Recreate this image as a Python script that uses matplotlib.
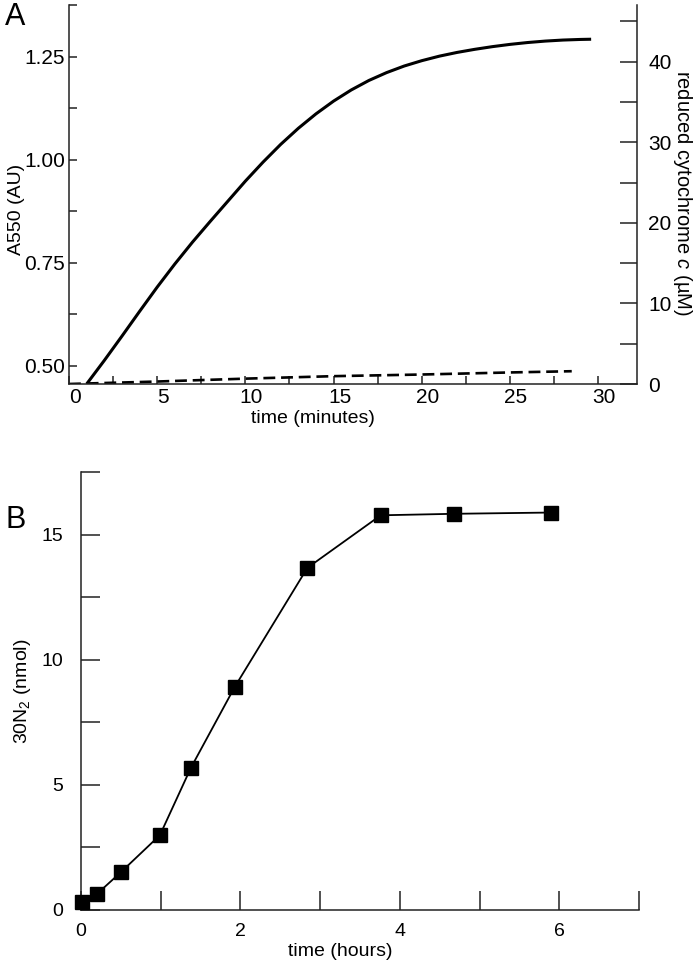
import matplotlib
matplotlib.use("Agg")
import matplotlib.pyplot as plt
import matplotlib.transforms as mtransforms

plt.rcParams['font.family'] = ['Liberation Sans', 'DejaVu Sans']
plt.rcParams['mathtext.fontset'] = 'custom'
plt.rcParams['mathtext.rm'] = 'Liberation Sans'
plt.rcParams['mathtext.it'] = 'Liberation Sans:italic'

# ---- Panel A data ----
a_solid_t = [1.0, 2, 3, 4, 5, 6, 7, 8, 9, 10, 11, 12, 13, 14, 15, 16, 17, 18, 19, 20,
             21, 22, 23, 24, 25, 26, 27, 28, 29, 29.6]
a_solid_v = [0.456, 0.513, 0.572, 0.632, 0.691, 0.747, 0.800, 0.850, 0.899, 0.948, 0.994,
             1.037, 1.076, 1.111, 1.142, 1.169, 1.192, 1.211, 1.227, 1.240, 1.251, 1.260,
             1.2675, 1.274, 1.2795, 1.284, 1.2875, 1.290, 1.2915, 1.292]
a_dash_t = [0, 5, 10, 15, 20, 25, 28.5]
a_dash_v = [0.456, 0.462, 0.469, 0.475, 0.479, 0.484, 0.487]

a_xticks = [0, 2.5, 5, 7.5, 10, 12.5, 15, 17.5, 20, 22.5, 25, 27.5, 30]
a_xticklabels = ['0', '', '5', '', '10', '', '15', '', '20', '', '25', '', '30']
a_yticks = [0.5, 0.625, 0.75, 0.875, 1.0, 1.125, 1.25, 1.375]
a_yticklabels = ['0.50', '', '0.75', '', '1.00', '', '1.25', '']
a_rticks = [0, 5, 10, 15, 20, 25, 30, 35, 40, 45]
a_rticklabels = ['0', '', '10', '', '20', '', '30', '', '40', '']

# ---- Panel B data ----
b_t = [0.01, 0.2, 0.5, 0.99, 1.38, 1.93, 2.84, 3.76, 4.68, 5.89]
b_v = [0.31, 0.64, 1.51, 2.99, 5.69, 8.92, 13.67, 15.77, 15.83, 15.88]
b_xticks = [0, 1, 2, 3, 4, 5, 6, 7]
b_xticklabels = ['0', '', '2', '', '4', '', '6', '']
b_yticks = [0, 2.5, 5, 7.5, 10, 12.5, 15, 17.5]
b_yticklabels = ['0', '', '5', '', '10', '', '15', '']

W, H = 693, 960
fig = plt.figure(figsize=(W / 100, H / 100), dpi=100)

def rect(l, r, t, b):
    return [l / W, 1 - b / H, (r - l) / W, (b - t) / H]

spine_c = '#222222'
fsT = 15   # tick labels panel A
fsL = 14   # axis labels

# ---------- Panel A ----------
axA = fig.add_axes(rect(69, 637, 5, 384))
axA.plot(a_solid_t, a_solid_v, color='black', lw=2.2, solid_capstyle='butt',
         solid_joinstyle='round')
axA.plot(a_dash_t, a_dash_v, color='black', lw=1.9, dashes=(4.5, 2.2))
axA.set_xlim(0, 32.2)
axA.set_ylim(0.456, 1.375)
axA.set_xticks(a_xticks)
axA.set_xticklabels(a_xticklabels)
axA.set_yticks(a_yticks)
axA.set_yticklabels(a_yticklabels)
for s in ['top', 'right']:
    axA.spines[s].set_visible(False)
for s in ['left', 'bottom']:
    axA.spines[s].set_color(spine_c)
    axA.spines[s].set_linewidth(1.1)
axA.tick_params(axis='both', direction='in', length=6, width=1.1, color=spine_c,
                labelsize=fsT, pad=3)
axA.tick_params(axis='x', pad=3)
offset = mtransforms.ScaledTranslation(6 / 100, 0, fig.dpi_scale_trans)
for lab in axA.get_xticklabels():
    lab.set_transform(lab.get_transform() + offset)
axA.set_xlabel('time (minutes)', fontsize=fsL)
axA.xaxis.set_label_coords(0.43, -0.068)
axA.set_ylabel('A550 (AU)', fontsize=fsL)
axA.yaxis.set_label_coords(-0.078, 0.46)

axR = axA.twinx()
axR.set_ylim(0, (384 - 5) / 8.06)
axR.set_yticks(a_rticks)
axR.set_yticklabels(a_rticklabels)
for s in ['top', 'left', 'bottom']:
    axR.spines[s].set_visible(False)
axR.spines['right'].set_color(spine_c)
axR.spines['right'].set_linewidth(1.1)
axR.tick_params(axis='y', direction='in', length=12, width=1.1, color=spine_c,
                labelsize=fsT, pad=8)
fig.text(682.5 / W, 1 - 193 / H, 'reduced cytochrome $\\mathit{c}$ (\u00b5M)',
         fontsize=14.5, rotation=270, ha='center', va='center',
         rotation_mode='anchor')

fig.text(5 / W, 1 - 2 / H, 'A', fontsize=22, ha='left', va='top')

# ---------- Panel B ----------
axB = fig.add_axes(rect(81, 639, 472, 910))
axB.plot(b_t, b_v, color='black', lw=1.3, marker='s', markersize=9.5,
         markerfacecolor='black', markeredgecolor='black', clip_on=False, zorder=3)
axB.set_xlim(0, 7)
axB.set_ylim(0, 17.5)
axB.set_xticks(b_xticks)
axB.set_xticklabels(b_xticklabels)
axB.set_yticks(b_yticks)
axB.set_yticklabels(b_yticklabels)
for s in ['top', 'right']:
    axB.spines[s].set_visible(False)
for s in ['left', 'bottom']:
    axB.spines[s].set_color(spine_c)
    axB.spines[s].set_linewidth(1.1)
axB.tick_params(axis='both', direction='in', length=13.5, width=1.1, color=spine_c,
                labelsize=fsL)
axB.tick_params(axis='y', pad=13)
axB.tick_params(axis='x', pad=9)
axB.set_xlabel('time (hours)', fontsize=fsL)
axB.xaxis.set_label_coords(0.464, -0.075)
axB.set_ylabel('30N$_\\mathregular{2}$ (nmol)', fontsize=fsL, labelpad=6)

fig.text(5 / W, 1 - 505 / H, 'B', fontsize=22, ha='left', va='top')

fig.savefig('out.png', dpi=100)
